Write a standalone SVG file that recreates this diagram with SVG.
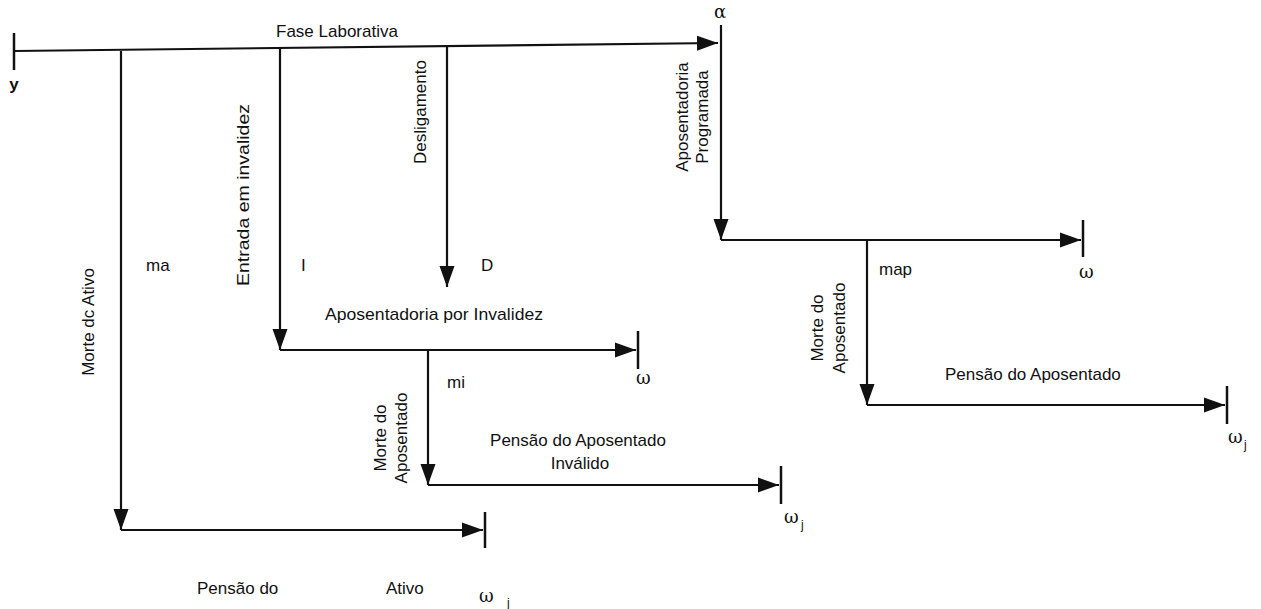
<svg xmlns="http://www.w3.org/2000/svg" width="1261" height="609" viewBox="0 0 1261 609">
<defs>
<marker id="ah" markerUnits="userSpaceOnUse" markerWidth="22" markerHeight="16" refX="21" refY="8" orient="auto"><path d="M0,0.5 L21,8 L0,15.5 Z" fill="#111"/></marker>
</defs>
<style>
.l{stroke:#111;stroke-width:2.2;fill:none}
.a{marker-end:url(#ah)}
.k{stroke:#111;stroke-width:2.5}
.t{font-family:"Liberation Sans",Arial,sans-serif;font-size:17px;fill:#111}
.s{font-family:"DejaVu Serif","Liberation Serif",serif;font-size:18px;fill:#111}
.j{font-family:"Liberation Sans",Arial,sans-serif;font-size:12px;fill:#111}
</style>
<rect width="1261" height="609" fill="#fff"/>

<g id="connectors">
<line class="l a" x1="14" y1="51" x2="718" y2="43"/>
<line class="l a" x1="121" y1="51" x2="121" y2="530"/>
<line class="l a" x1="121" y1="530" x2="483" y2="530"/>
<line class="l a" x1="280" y1="49" x2="280" y2="350"/>
<line class="l a" x1="280" y1="350" x2="636" y2="350"/>
<line class="l a" x1="447" y1="47" x2="447" y2="287"/>
<line class="l a" x1="721" y1="25" x2="721" y2="240"/>
<line class="l a" x1="721" y1="240" x2="1081" y2="240"/>
<line class="l a" x1="428" y1="350" x2="428" y2="485"/>
<line class="l a" x1="428" y1="485" x2="779" y2="485"/>
<line class="l a" x1="867" y1="240" x2="867" y2="405"/>
<line class="l a" x1="867" y1="405" x2="1225" y2="405"/>
</g>

<g id="start">
<line class="k" x1="14" y1="33" x2="14" y2="70"/>
<text class="t" x="14" y="90" text-anchor="middle" font-weight="bold">y</text>
<text class="t" x="276" y="37">Fase Laborativa</text>
</g>

<g id="alpha">
<text class="s" x="720" y="18" text-anchor="middle">α</text>
<text class="t" transform="rotate(-90 688 117)" x="688" y="117" text-anchor="middle">Aposentadoria</text>
<text class="t" transform="rotate(-90 708 117)" x="708" y="117" text-anchor="middle">Programada</text>
</g>

<g id="morte-ativo">
<text class="t" transform="rotate(-90 94 322)" x="94" y="322" text-anchor="middle">Morte dc Ativo</text>
<text class="t" x="146" y="271">ma</text>
<line class="k" x1="485" y1="512" x2="485" y2="548"/>
<text class="t" x="197" y="594">Pensão do</text>
<text class="t" x="386" y="594">Ativo</text>
<text class="s" x="479" y="602">ω</text>
<text class="j" x="507" y="607">j</text>
</g>

<g id="invalidez">
<text class="t" transform="rotate(-90 249 195)" x="249" y="195" text-anchor="middle" textLength="182" lengthAdjust="spacingAndGlyphs">Entrada em invalidez</text>
<text class="t" x="301" y="271">I</text>
<text class="t" x="325" y="320" textLength="218" lengthAdjust="spacingAndGlyphs">Aposentadoria por Invalidez</text>
<line class="k" x1="638" y1="331" x2="638" y2="369"/>
<text class="s" x="636" y="384">ω</text>
</g>

<g id="desligamento">
<text class="t" transform="rotate(-90 426 112)" x="426" y="112" text-anchor="middle">Desligamento</text>
<text class="t" x="481" y="271">D</text>
</g>

<g id="morte-invalido">
<text class="t" transform="rotate(-90 386 438)" x="386" y="438" text-anchor="middle">Morte do</text>
<text class="t" transform="rotate(-90 407 438)" x="407" y="438" text-anchor="middle">Aposentado</text>
<text class="t" x="447" y="388">mi</text>
<text class="t" x="578" y="446" text-anchor="middle">Pensão do Aposentado</text>
<text class="t" x="580" y="469" text-anchor="middle">Inválido</text>
<line class="k" x1="781" y1="466" x2="781" y2="504"/>
<text class="s" x="784" y="523">ω</text>
<text class="j" x="801" y="529">j</text>
</g>

<g id="programada">
<line class="k" x1="1083" y1="220" x2="1083" y2="257"/>
<text class="s" x="1079" y="278">ω</text>
<text class="t" x="879" y="275">map</text>
<text class="t" transform="rotate(-90 823 328)" x="823" y="328" text-anchor="middle">Morte do</text>
<text class="t" transform="rotate(-90 845 328)" x="845" y="328" text-anchor="middle">Aposentado</text>
<text class="t" x="945" y="380">Pensão do Aposentado</text>
<line class="k" x1="1227" y1="386" x2="1227" y2="424"/>
<text class="s" x="1228" y="443">ω</text>
<text class="j" x="1244" y="449">j</text>
</g>
</svg>
